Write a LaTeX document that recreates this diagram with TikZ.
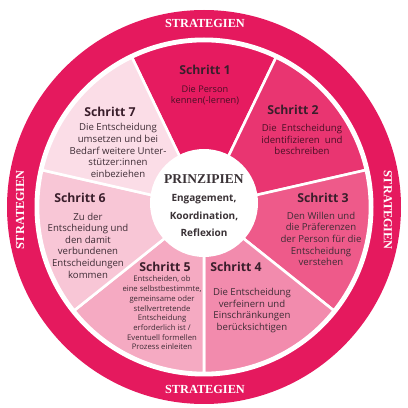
\documentclass[tikz,border=0pt]{standalone}
\usepackage{fontspec}
\setmainfont{Liberation Serif}
\setsansfont{Open Sans}
\definecolor{ring}{HTML}{E5195E}
\definecolor{w1}{HTML}{E61B60}
\definecolor{w2}{HTML}{E93571}
\definecolor{w3}{HTML}{EE5A8A}
\definecolor{w4}{HTML}{F28BAD}
\definecolor{w5}{HTML}{F5AAC2}
\definecolor{w6}{HTML}{F8C6D6}
\definecolor{w7}{HTML}{FBDDE7}
\definecolor{ttl}{HTML}{3A1E2B}
\definecolor{bdy}{HTML}{3E2C35}
\definecolor{bdyd}{HTML}{4A1026}
\definecolor{prz}{HTML}{3A3236}
\tikzset{
  wedge/.style={draw=white,line width=2.6pt,line join=round},
  strat/.style={text=white,font=\fontsize{12.3}{13}\selectfont\bfseries\rmfamily,inner sep=0pt},
  title/.style={text=ttl,font=\fontsize{12.3}{13}\selectfont\sffamily\bfseries,inner sep=0pt},
  body/.style={text=bdy,align=center,font=\fontsize{9.6}{11.6}\selectfont\sffamily,inner sep=0pt},
  smallbody/.style={text=bdy,align=center,font=\fontsize{7.7}{9.7}\selectfont\sffamily,inner sep=0pt},
  pbody/.style={text=prz,font=\fontsize{10}{11}\selectfont\sffamily\bfseries,inner sep=0pt},
}
\begin{document}
\begin{tikzpicture}[x=1pt,y=1pt]
\useasboundingbox (0,0) rectangle (408,408);
\fill[white] (0,0) rectangle (408,408);
\coordinate (C) at (204,201);
% outer ring
\fill[ring] (C) circle (197);
\fill[white] (C) circle (169.5);
% wedges
\foreach \i/\col in {0/w1,1/w2,2/w3,3/w4,4/w5,5/w6,6/w7}{
  \pgfmathsetmacro{\aa}{115.714-\i*51.4286}
  \pgfmathsetmacro{\bb}{\aa-51.4286}
  \filldraw[wedge,fill=\col] (C) -- ([shift={(\aa:166)}]C) arc[start angle=\aa,end angle=\bb,radius=166] -- cycle;
}
% center circle
\fill[white] (204,205) circle (54);
% strategien labels
\node[strat] (sTop) at (205,385) {STRATEGIEN};
\node[strat] (sBot) at (205,19) {STRATEGIEN};
\node[strat,rotate=90] (sLeft) at (20,198) {STRATEGIEN};
\node[strat,rotate=-90] (sRight) at (388,198) {STRATEGIEN};
% principles
\node[text=prz,font=\fontsize{13.5}{14}\selectfont\bfseries\rmfamily,inner sep=0pt] (prin) at (204,229) {PRINZIPIEN};
\node[pbody] (p1) at (204,209) {Engagement,};
\node[pbody] (p2) at (204,192) {Koordination,};
\node[pbody] (p3) at (204,175.5) {Reflexion};
% step 1
\node[title] (t1) at (205,338) {Schritt 1};
\node[body,text=bdyd,font=\fontsize{9.2}{11}\selectfont\sffamily] (b1) at (205,312.5) {Die Person\\kennen(-lernen)};
% step 2
\node[title] (t2) at (293,298) {Schritt 2};
\node[body,text=bdyd] (b2) at (302,268.5) {Die\ \ Entscheidung\\identifizieren\ \ und\\beschreiben};
% step 3
\node[title] (t3) at (323,210) {Schritt 3};
\node[body] (b3) at (321,169) {Den Willen und\\die Präferenzen\\der Person für die\\Entscheidung\\verstehen};
% step 4
\node[title] (t4) at (236,141) {Schritt 4};
\node[body] (b4) at (252,97.5) {Die Entscheidung\\verfeinern und\\Einschränkungen\\berücksichtigen};
% step 5
\node[title] (t5) at (165,141) {Schritt 5};
\node[smallbody] (b5) at (162,95) {Entscheiden, ob\\eine selbstbestimmte,\\gemeinsame oder\\stellvertretende\\Entscheidung\\erforderlich ist /\\Eventuell formellen\\Prozess einleiten};
% step 6
\node[title] (t6) at (80,210) {Schritt 6};
\node[body] (b6) at (88,162.5) {Zu der\\Entscheidung und\\den damit\\verbundenen\\Entscheidungen\\kommen};
% step 7
\node[title] (t7) at (110,296) {Schritt 7};
\node[body] (b7) at (118,257.5) {Die Entscheidung\\umsetzen und bei\\Bedarf weitere Unter-\\stützer:innen\\einbeziehen};
\end{tikzpicture}
\end{document}
